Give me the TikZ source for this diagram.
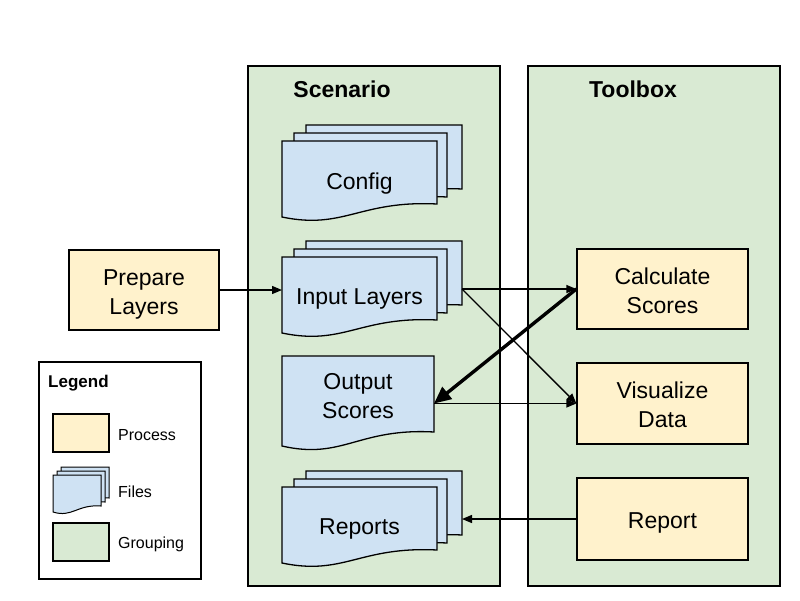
\documentclass[tikz,border=0pt]{standalone}
\usepackage{fontspec}
\setmainfont{Liberation Sans}
\usetikzlibrary{arrows.meta}
\definecolor{grp}{HTML}{D9EAD3}
\definecolor{proc}{HTML}{FFF2CC}
\definecolor{filec}{HTML}{CFE2F3}
\tikzset{
  group/.style={draw=black, fill=grp, line width=1.3pt, inner sep=0pt},
  procbox/.style={draw=black, fill=proc, line width=1.3pt, inner sep=0pt},
  boxtext/.style={align=center, inner sep=0pt, font=\fontsize{23}{29}\selectfont},
  docstyle/.style={draw=black, fill=filec, line width=1.3pt},
  grouptitle/.style={font=\bfseries\fontsize{23}{28}\selectfont},
  legtext/.style={anchor=west, inner sep=0pt, font=\fontsize{16}{19}\selectfont},
  conn/.style={line width=1.3pt, -{Triangle[length=10pt,width=8pt]}},
  boldconn/.style={line width=3.4pt, -{Triangle[length=17pt,width=15pt]}},
}
% #2 left, #3 top, #4 width, #5 height to right bottom corner, #6 wave depth
\newcommand{\mydoc}[6][]{\filldraw[docstyle,#1] (#2,#3) -- (#2+#4,#3) -- (#2+#4,#3+#5) .. controls (#2+0.5*#4,#3+#5-0.3*#6) and (#2+0.4*#4,#3+#5+2*#6) .. (#2,#3+#5+#6) -- cycle;}
\newcommand{\mystack}[2]{%
  \mydoc{#1+24}{#2-16}{156}{64}{13}
  \mydoc{#1+12}{#2-8}{153}{64}{13}
  \mydoc{#1}{#2}{155}{63}{13}}
\begin{document}
\begin{tikzpicture}[x=1pt,y=-1pt]
\useasboundingbox (0,0) rectangle (800,600);
% groups
\node[group, minimum width=252, minimum height=520] (scen) at (374,326) {};
\node[group, minimum width=252, minimum height=520] (tool) at (654,326) {};
\node[grouptitle] (scentitle) at (342,89) {Scenario};
\node[grouptitle] (tooltitle) at (633,89) {Toolbox};
% documents
\mystack{282}{141}
\node[boxtext, minimum width=155] (config) at (359.5,184) {Config};
\mystack{282}{257}
\node[boxtext, minimum width=155] (input) at (359.5,299) {Input Layers};
\mydoc{282}{356}{152}{76}{14}
\node[boxtext, minimum width=152] (output) at (358,396) {Output\\Scores};
\mystack{282}{487}
\node[boxtext, minimum width=155] (reports) at (359.5,529) {Reports};
% processes
\node[procbox, minimum width=150, minimum height=80] (prep) at (144,290) {};
\node[boxtext] (preptext) at (144,294) {Prepare\\Layers};
\node[procbox, minimum width=171, minimum height=80] (calc) at (662.5,289) {};
\node[boxtext] (calctext) at (662.5,291) {Calculate\\Scores};
\node[procbox, minimum width=171, minimum height=81] (vis) at (662.5,403.5) {};
\node[boxtext] (vistext) at (662.5,404.5) {Visualize\\Data};
\node[procbox, minimum width=171, minimum height=82] (report) at (662.5,519) {};
\node[boxtext] (reporttext) at (662.5,523) {Report};
% connector ends
\coordinate (inL) at (282,290);
\coordinate (inR) at (462,289);
\coordinate (outR) at (434,403.5);
\coordinate (repR) at (462,519);
% connectors
\draw[conn] (prep.east) -- (inL);
\draw[conn] (inR) -- (calc.west);
\draw[conn] (inR) -- (vis.west);
\draw[conn] (outR) -- (vis.west);
\draw[boldconn] (calc.west) -- (outR);
\draw[conn] (report.west) -- (repR);
% legend
\node[draw=black, line width=1.3pt, minimum width=162, minimum height=217, inner sep=0pt] (legend) at (120,470.5) {};
\node[anchor=west, inner sep=0pt, font=\bfseries\fontsize{17}{20}\selectfont] (legtitle) at (48,383) {Legend};
\node[draw=black, fill=proc, line width=1.1pt, minimum width=56, minimum height=38, inner sep=0pt] (lproc) at (81,433) {};
\node[legtext] (lproct) at (118,435) {Process};
\mydoc[line width=1pt]{61}{467}{48}{31}{6}
\mydoc[line width=1pt]{57}{471}{48}{31}{6}
\mydoc[line width=1pt]{53}{475}{48}{31}{6}
\node[legtext] (lfilet) at (118,492) {Files};
\node[draw=black, fill=grp, line width=1.1pt, minimum width=56, minimum height=38, inner sep=0pt] (lgrp) at (81,542) {};
\node[legtext] (lgrpt) at (118,544) {Grouping};
\end{tikzpicture}
\end{document}
